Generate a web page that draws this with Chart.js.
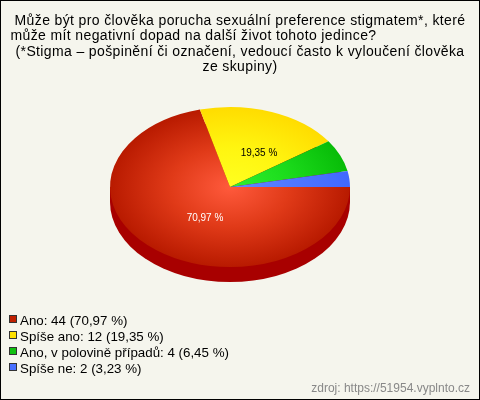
<!DOCTYPE html>
<html>
<head>
<meta charset="utf-8">
<style>
html, body { margin: 0; padding: 0; background: #f5f5ed; }
canvas { display: block; }
</style>
</head>
<body>
<canvas id="chart" width="480" height="400"></canvas>
<script src="https://cdn.jsdelivr.net/npm/chart.js@4"></script>
<script>
const categories = ['Ano', 'Spíše ano', 'Ano, v polovině případů', 'Spíše ne'];
const counts = [44, 12, 4, 2];
const percents = ['70,97 %', '19,35 %', '6,45 %', '3,23 %'];
const titleLines = [
    'Může být pro člověka porucha sexuální preference stigmatem*, které',
    'může mít negativní dopad na další život tohoto jedince?',
    '(*Stigma – pošpinění či označení, vedoucí často k vyloučení člověka',
    'ze skupiny)'
];
const sourceText = 'zdroj: https://51954.vyplnto.cz';

const centerColors = ['#ff5a3c', '#ffff20', '#30f030', '#6488ff'];
const midColors = ['#e03a18', '#fff510', '#1cdc1c', '#5078ff'];
const edgeColors = ['#b81a00', '#ffdc00', '#08bc08', '#4068ff'];
const legendColors = ['#c02000', '#ffe000', '#10c010', '#4870ff'];
const FONT = '"Liberation Sans", Arial, sans-serif';
const SQUASH = 2 / 3;
const DEPTH = 15;

function sliceFill(ctx) {
    const a = ctx.chart.chartArea;
    if (!a) return edgeColors[ctx.dataIndex];
    const cx = (a.left + a.right) / 2, cy = (a.top + a.bottom) / 2;
    const g = ctx.chart.ctx.createRadialGradient(cx, cy, 0, cx, cy, (a.right - a.left) / 2);
    g.addColorStop(0, centerColors[ctx.dataIndex]);
    g.addColorStop(0.5, midColors[ctx.dataIndex]);
    g.addColorStop(1, edgeColors[ctx.dataIndex]);
    return g;
}

const flatPie = {
    id: 'flatPie',
    beforeDraw(chart) {
        const ctx = chart.ctx;
        ctx.save();
        ctx.fillStyle = '#f5f5ed';
        ctx.fillRect(0, 0, 480, 400);
        ctx.strokeStyle = '#000';
        ctx.lineWidth = 1;
        ctx.strokeRect(0.5, 0.5, 479, 399);
        ctx.restore();
    },
    beforeDatasetsDraw(chart) {
        const ctx = chart.ctx;
        const arc = chart.getDatasetMeta(0).data[0];
        const r = arc.outerRadius;
        // dark side of the disc
        ctx.save();
        ctx.fillStyle = '#a80000';
        ctx.beginPath();
        ctx.ellipse(arc.x, arc.y + DEPTH, r, r * SQUASH, 0, 0, Math.PI * 2);
        ctx.fill();
        ctx.fillRect(arc.x - r, arc.y, r * 2, DEPTH);
        ctx.restore();
        ctx.save();
        ctx.translate(0, arc.y);
        ctx.scale(1, SQUASH);
        ctx.translate(0, -arc.y);
    },
    afterDatasetsDraw(chart) {
        const ctx = chart.ctx;
        ctx.restore();
        const arc = chart.getDatasetMeta(0).data[0];
        ctx.save();
        ctx.textAlign = 'center';
        ctx.textBaseline = 'middle';
        ctx.font = '10px ' + FONT;
        ctx.fillStyle = '#fff';
        ctx.fillText(percents[0], arc.x - 25, arc.y + 31);
        ctx.fillStyle = '#000';
        ctx.fillText(percents[1], arc.x + 29, arc.y - 34);
        ctx.restore();
    },
    afterDraw(chart) {
        const ctx = chart.ctx;
        ctx.save();
        ctx.fillStyle = '#000';
        ctx.font = '14px ' + FONT;
        ctx.letterSpacing = '0.37px';
        ctx.textBaseline = 'alphabetic';
        ctx.textAlign = 'center';
        titleLines.forEach((line, i) => {
            // second line sits left of centre in the reference
            ctx.fillText(line, i === 1 ? 193.5 : 240, 25 + i * 15.3);
        });
        ctx.letterSpacing = '0px';
        ctx.font = '13.33px ' + FONT;
        ctx.textAlign = 'left';
        categories.forEach((name, i) => {
            const y = 320 + i * 16;
            ctx.fillStyle = legendColors[i];
            ctx.fillRect(10, y - 4, 6, 7);
            ctx.strokeStyle = '#333';
            ctx.strokeRect(9.5, y - 4.5, 7, 7);
            ctx.fillStyle = '#000';
            ctx.fillText(name + ': ' + counts[i] + ' (' + percents[i] + ')', 20, y + 5);
        });
        ctx.fillStyle = '#888';
        ctx.font = '12px ' + FONT;
        ctx.textAlign = 'right';
        ctx.fillText(sourceText, 470, 392);
        ctx.restore();
    }
};

new Chart(document.getElementById('chart'), {
    type: 'pie',
    data: {
        labels: categories,
        datasets: [{ data: counts, backgroundColor: sliceFill, borderWidth: 0, clip: false }]
    },
    options: {
        responsive: false,
        animation: false,
        rotation: 90,
        layout: { padding: { left: 110, right: 130, top: 67, bottom: 93 } },
        plugins: { legend: { display: false }, title: { display: false }, tooltip: { enabled: false } }
    },
    plugins: [flatPie]
});
</script>
</body>
</html>
